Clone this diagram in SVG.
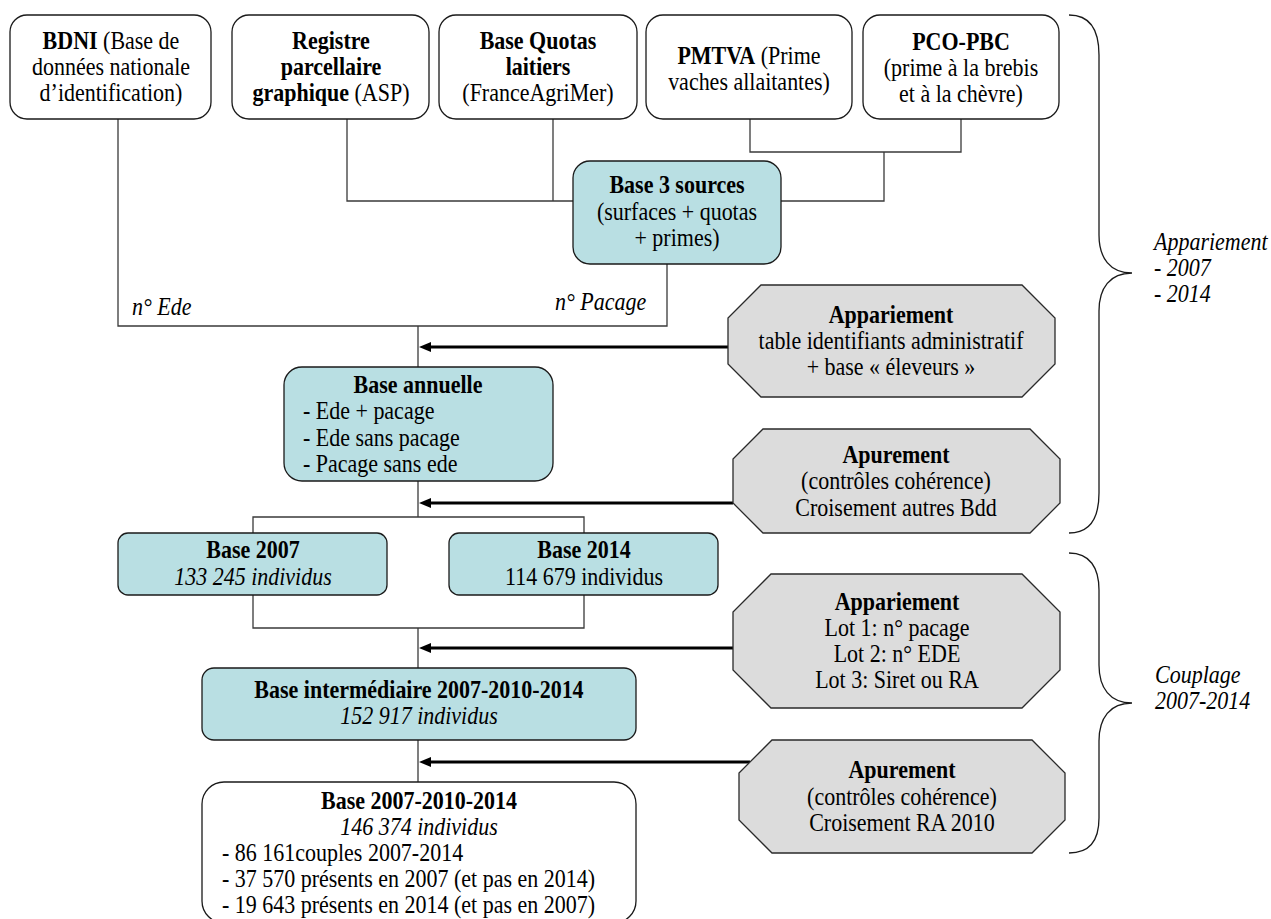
<svg xmlns="http://www.w3.org/2000/svg" width="1271" height="919" viewBox="0 0 1271 919">
<style>
.box{fill:#fff;stroke:#1a1a1a;stroke-width:1.3}
.teal{fill:#b9dfe3;stroke:#1a1a1a;stroke-width:1.3}
.oct{fill:#dcdcdc;stroke:#2a2a2a;stroke-width:1.3}
.conn{fill:none;stroke:#3a3a3a;stroke-width:1.3}
.arr{fill:none;stroke:#000;stroke-width:3}
.brace{fill:none;stroke:#1a1a1a;stroke-width:1.3}
text{font-family:"Liberation Serif","Times New Roman",serif;font-size:22px;fill:#000}
.c{text-anchor:middle}
.b{font-weight:bold}
.i{font-style:italic}
</style>
<defs>
<marker id="ah" markerUnits="userSpaceOnUse" markerWidth="13" markerHeight="11" refX="0" refY="5" orient="auto">
<path d="M0,0 L12,5 L0,10 z" fill="#000"/>
</marker>
</defs>
<rect width="1271" height="919" fill="#fff"/>
<g id="connectors">
<path class="conn" d="M118,119 V326 H667 V264"/>
<path class="conn" d="M347,119 V201 H573"/>
<path class="conn" d="M553,119 V201"/>
<path class="conn" d="M750,119 V152 H961 V119"/>
<path class="conn" d="M884,152 V201 H781"/>
<path class="conn" d="M418,326 V367"/>
<path class="conn" d="M418,481 V517"/>
<path class="conn" d="M253,533 V517 H584 V533"/>
<path class="conn" d="M253,595 V628 H584 V595"/>
<path class="conn" d="M418,628 V668"/>
<path class="conn" d="M418,740 V782"/>
<path class="arr" d="M728,347 H431" marker-end="url(#ah)"/>
<path class="arr" d="M733,503 H431" marker-end="url(#ah)"/>
<path class="arr" d="M733,648 H431" marker-end="url(#ah)"/>
<path class="arr" d="M750,762 H431" marker-end="url(#ah)"/>
</g>
<g id="bdni">
<rect class="box" x="10" y="15" width="201" height="104" rx="17"/>
<g transform="scale(1,1.15)">
<text class="c" x="111" y="42.6"><tspan class="b">BDNI</tspan> (Base de</text>
<text class="c" x="111" y="65.2">données nationale</text>
<text class="c" x="111" y="87.8">d’identification)</text>
</g>
</g>
<g id="registre">
<rect class="box" x="232" y="15" width="197" height="104" rx="17"/>
<g transform="scale(1,1.15)">
<text class="c b" x="331" y="42.6">Registre</text>
<text class="c b" x="331" y="65.2">parcellaire</text>
<text class="c" x="331" y="87.8"><tspan class="b">graphique</tspan> (ASP)</text>
</g>
</g>
<g id="quotas">
<rect class="box" x="439" y="15" width="198" height="104" rx="17"/>
<g transform="scale(1,1.15)">
<text class="c b" x="538" y="42.6">Base Quotas</text>
<text class="c b" x="538" y="65.2">laitiers</text>
<text class="c" x="538" y="87.8">(FranceAgriMer)</text>
</g>
</g>
<g id="pmtva">
<rect class="box" x="646" y="15" width="206" height="104" rx="17"/>
<g transform="scale(1,1.15)">
<text class="c" x="749" y="55.7"><tspan class="b">PMTVA</tspan> (Prime</text>
<text class="c" x="749" y="78.3">vaches allaitantes)</text>
</g>
</g>
<g id="pco">
<rect class="box" x="863" y="15" width="196" height="104" rx="17"/>
<g transform="scale(1,1.15)">
<text class="c b" x="961" y="43.5">PCO-PBC</text>
<text class="c" x="961" y="66.1">(prime à la brebis</text>
<text class="c" x="961" y="88.7">et à la chèvre)</text>
</g>
</g>
<g id="base3">
<rect class="teal" x="573" y="161" width="208" height="103" rx="17"/>
<g transform="scale(1,1.15)">
<text class="c b" x="677" y="167.8">Base 3 sources</text>
<text class="c" x="677" y="191.3">(surfaces + quotas</text>
<text class="c" x="677" y="213.9">+ primes)</text>
</g>
</g>
<g id="labels">
<g transform="scale(1,1.15)">
<text class="i" x="132" y="273.9">n° Ede</text>
<text class="i" x="555" y="269.6">n° Pacage</text>
</g>
</g>
<g id="annuelle">
<rect class="teal" x="284" y="367" width="269" height="114" rx="18"/>
<g transform="scale(1,1.15)">
<text class="c b" x="418" y="341.7">Base annuelle</text>
<text x="303" y="364.3">- Ede + pacage</text>
<text x="303" y="387.8">- Ede sans pacage</text>
<text x="303" y="410.4">- Pacage sans ede</text>
</g>
</g>
<g id="oct1">
<polygon class="oct" points="761,285 1022,285 1055,318 1055,364 1022,397 761,397 728,364 728,318"/>
<g transform="scale(1,1.15)">
<text class="c b" x="891" y="280.9">Appariement</text>
<text class="c" x="891" y="303.5">table identifiants administratif</text>
<text class="c" x="891" y="326.1">+ base « éleveurs »</text>
</g>
</g>
<g id="oct2">
<polygon class="oct" points="763,429 1030,429 1060,459 1060,503 1030,533 763,533 733,503 733,459"/>
<g transform="scale(1,1.15)">
<text class="c b" x="896" y="402.6">Apurement</text>
<text class="c" x="896" y="425.2">(contrôles cohérence)</text>
<text class="c" x="896" y="448.7">Croisement autres Bdd</text>
</g>
</g>
<g id="b2007">
<rect class="teal" x="118" y="533" width="269" height="62" rx="10"/>
<g transform="scale(1,1.15)">
<text class="c b" x="253" y="485.2">Base 2007</text>
<text class="c i" x="253" y="508.7">133 245 individus</text>
</g>
</g>
<g id="b2014">
<rect class="teal" x="449" y="533" width="269" height="62" rx="10"/>
<g transform="scale(1,1.15)">
<text class="c b" x="584" y="485.2">Base 2014</text>
<text class="c" x="584" y="508.7">114 679 individus</text>
</g>
</g>
<g id="oct3">
<polygon class="oct" points="771,574 1022,574 1060,612 1060,670 1022,708 771,708 733,670 733,612"/>
<g transform="scale(1,1.15)">
<text class="c b" x="897" y="530.4">Appariement</text>
<text class="c" x="897" y="553">Lot 1: n° pacage</text>
<text class="c" x="897" y="575.7">Lot 2: n° EDE</text>
<text class="c" x="897" y="598.3">Lot 3: Siret ou RA</text>
</g>
</g>
<g id="inter">
<rect class="teal" x="202" y="668" width="434" height="72" rx="12"/>
<g transform="scale(1,1.15)">
<text class="c b" x="419" y="607">Base intermédiaire 2007-2010-2014</text>
<text class="c i" x="419" y="629.6">152 917 individus</text>
</g>
</g>
<g id="oct4">
<polygon class="oct" points="772,740 1032,740 1065,773 1065,820 1032,853 772,853 739,820 739,773"/>
<g transform="scale(1,1.15)">
<text class="c b" x="902" y="676.5">Apurement</text>
<text class="c" x="902" y="700">(contrôles cohérence)</text>
<text class="c" x="902" y="722.6">Croisement RA 2010</text>
</g>
</g>
<g id="final">
<rect class="box" x="202" y="782" width="434" height="141" rx="22"/>
<g transform="scale(1,1.15)">
<text class="c b" x="419" y="703.5">Base 2007-2010-2014</text>
<text class="c i" x="419" y="726.1">146 374 individus</text>
<text x="222" y="748.7">- 86 161couples 2007-2014</text>
<text x="222" y="771.3">- 37 570 présents en 2007 (et pas en 2014)</text>
<text x="222" y="793.9">- 19 643 présents en 2014 (et pas en 2007)</text>
</g>
</g>
<g id="brace1">
<path class="brace" d="M1069,15 C1090,15 1099,30 1099,55 L1099,235 C1099,258 1110,273 1132,273 C1110,273 1099,288 1099,311 L1099,493 C1099,518 1090,533 1069,533"/>
<g transform="scale(1,1.15)">
<text class="i" x="1154" y="217.4">Appariement</text>
<text class="i" x="1154" y="240">- 2007</text>
<text class="i" x="1154" y="262.6">- 2014</text>
</g>
</g>
<g id="brace2">
<path class="brace" d="M1069,553 C1090,553 1099,568 1099,590 L1099,665 C1099,688 1110,703 1132,703 C1110,703 1099,718 1099,741 L1099,818 C1099,840 1090,853 1069,853"/>
<g transform="scale(1,1.15)">
<text class="i" x="1155" y="593.9">Couplage</text>
<text class="i" x="1155" y="616.5">2007-2014</text>
</g>
</g>
</svg>
